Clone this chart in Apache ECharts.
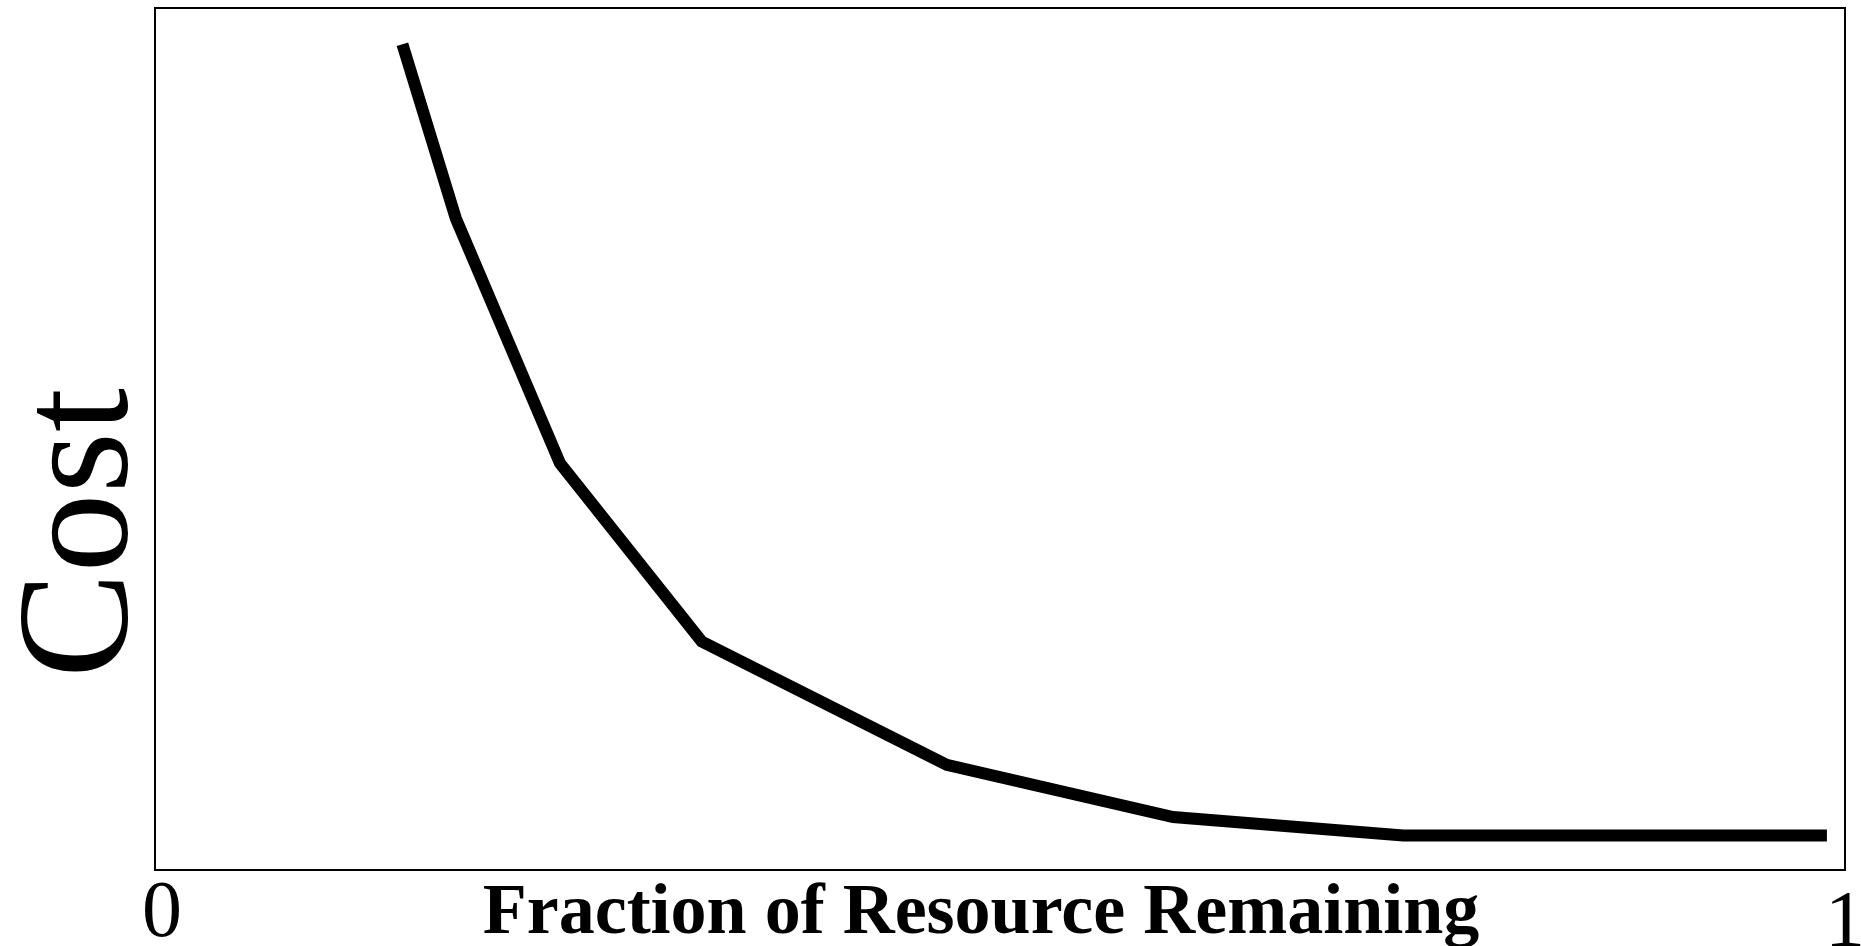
<!DOCTYPE html>
<html>
<head>
<meta charset="utf-8">
<script src="https://cdn.jsdelivr.net/npm/echarts@6/dist/echarts.min.js"></script>
<style>
html,body{margin:0;padding:0;background:#fff;}
#chart{width:1861px;height:946px;}
</style>
</head>
<body>
<div id="chart"></div>
<script>
// Data
const fraction = [0.1464, 0.178, 0.2396, 0.3235, 0.4685, 0.6024, 0.7385, 0.9893];
const cost = [95.8, 75.6, 47.2, 26.5, 12.2, 6.15, 4.0, 4.0];
const xTickLabels = ['0', '1'];
const xAxisTitle = 'Fraction of Resource Remaining';
const yAxisTitle = 'Cost';

const points = fraction.map((x, i) => [x, cost[i]]);

const chart = echarts.init(document.getElementById('chart'));
chart.setOption({
  backgroundColor: '#fff',
  animation: false,
  grid: {
    left: 155, right: 16, top: 8, bottom: 76,
    containLabel: false, outerBoundsMode: 'none',
    show: true, borderColor: '#000', borderWidth: 2, backgroundColor: 'transparent'
  },
  xAxis: {
    type: 'value', min: 0, max: 1, interval: 1,
    axisLine: { show: false }, axisTick: { show: false }, splitLine: { show: false },
    axisLabel: {
      show: true, showMinLabel: true, showMaxLabel: true, margin: 5, hideOverlap: false,
      formatter: v => v === 0 ? '{zero|' + xTickLabels[0] + '}' : '{one|' + xTickLabels[1] + '}',
      rich: {
        zero: { fontFamily: 'Liberation Serif', fontSize: 80, color: '#000', lineHeight: 80, padding: [0, 0, 0, 14] },
        one: { fontFamily: 'Liberation Serif', fontSize: 80, color: '#000', lineHeight: 100 }
      }
    },
    name: xAxisTitle, nameLocation: 'middle', nameGap: 8, nameMoveOverlap: false,
    nameTextStyle: {
      fontFamily: 'Liberation Serif', fontWeight: 'bold', fontSize: 72, color: '#000',
      padding: [0, 38, 0, 0]
    }
  },
  yAxis: {
    type: 'value', min: 0, max: 100,
    axisLine: { show: false }, axisTick: { show: false }, splitLine: { show: false },
    axisLabel: { show: false },
    name: yAxisTitle, nameLocation: 'middle', nameRotate: 90, nameGap: -8, nameMoveOverlap: false,
    nameTextStyle: {
      fontFamily: 'Liberation Serif', fontSize: 158, color: '#000',
      padding: [0, 188, 0, 0]
    }
  },
  series: [{
    type: 'line', data: points, symbol: 'none', showSymbol: false,
    lineStyle: { color: '#000', width: 12, cap: 'butt', join: 'miter' },
    silent: true
  }]
});
</script>
</body>
</html>
